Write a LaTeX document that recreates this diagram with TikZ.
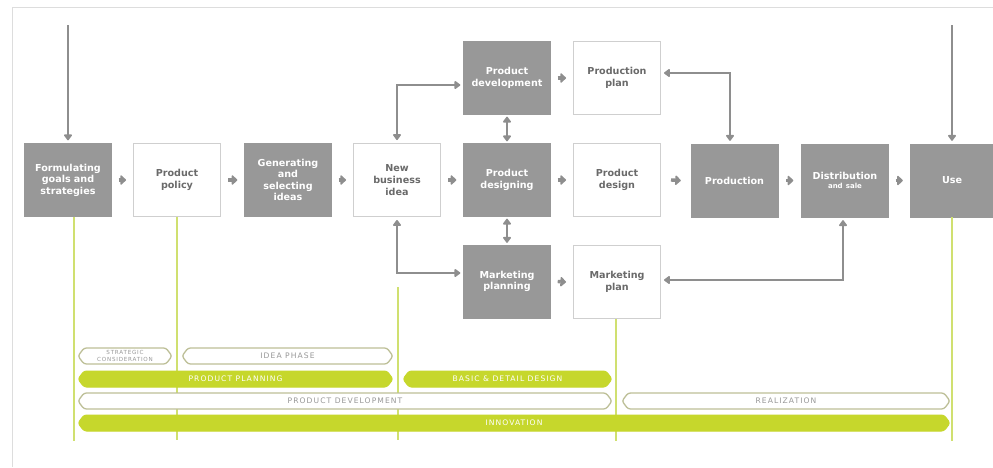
\documentclass[tikz,border=0pt]{standalone}
\usepackage{fontspec}
\setmainfont{DejaVu Sans}
\newfontfamily\barfont[LetterSpace=14]{DejaVu Sans}
\usetikzlibrary{arrows.meta}

\definecolor{boxgray}{HTML}{989898}
\definecolor{edgegray}{HTML}{CFCFCF}
\definecolor{linkgray}{HTML}{8E8E8E}
\definecolor{textgray}{HTML}{6A6A6A}
\definecolor{lime}{HTML}{C6D72C}
\definecolor{limeline}{HTML}{D0E070}
\definecolor{olive}{HTML}{BDBF97}
\definecolor{framegray}{HTML}{DDDDDD}

% phase bar with pointed ends: style, left x, right x, centre y, name, text
\newcommand\phasebar[6]{%
  \draw[#1] (#2,#4) -- (#2+6,#4-8) -- (#3-6,#4-8) -- (#3,#4)
     -- (#3-6,#4+8) -- (#2+6,#4+8) -- cycle;
  \node[#1 label] (#5) at ({(#2+#3)/2},#4) {#6};}

\begin{document}
\begin{tikzpicture}[x=1pt,y=-1pt,
  boxbase/.style={minimum width=87pt, minimum height=73pt, text width=84pt, align=center,
    font=\bfseries\fontsize{9.6}{11.6}\selectfont, inner sep=0pt},
  darkbox/.style={boxbase, fill=boxgray, draw=boxgray, text=white},
  lightbox/.style={boxbase, fill=white, draw=edgegray, line width=1pt, text=textgray},
  flow/.style={draw=linkgray, line width=3.4pt, -{Triangle[length=6pt,width=11pt,round]}},
  link/.style={draw=linkgray, line width=1.8pt, shorten <=3pt, shorten >=3pt},
  tipboth/.style={{Triangle[length=6.5pt,width=9pt,round]}-{Triangle[length=6.5pt,width=9pt,round]}},
  tipend/.style={-{Triangle[length=6.5pt,width=9pt,round]}},
  gline/.style={draw=limeline, line width=1.8pt},
  greenbar/.style={fill=lime, draw=lime, line width=1pt, rounded corners=2.5pt},
  greenbar label/.style={text=white, font=\barfont\fontsize{7.6}{7.6}\selectfont, inner sep=0pt, align=center},
  openbar/.style={fill=white, draw=olive, line width=1.3pt, rounded corners=2.5pt},
  openbar label/.style={text=boxgray, font=\barfont\fontsize{7.6}{7.6}\selectfont, inner sep=0pt, align=center},
]
\useasboundingbox (0,0) rectangle (993,467);
\fill[white] (0,0) rectangle (993,467);
\draw[framegray, line width=0.8pt] (993,7) -- (12,7) -- (12,467);

% main chain
\node[darkbox]  (f1) at (68,180)    {Formulating\\goals and\\strategies};
\node[lightbox] (f2) at (177,180)   {Product\\policy};
\node[darkbox]  (f3) at (288,180)   {Generating\\and\\selecting\\ideas};
\node[lightbox] (f4) at (397,180)   {New\\business\\idea};
\node[darkbox]  (f5) at (507,180)   {Product\\designing};
\node[lightbox] (f6) at (617,180)   {Product\\design};
\node[darkbox]  (f7) at (734.5,180.5) {Production};
\node[darkbox]  (f8) at (845,180.5) {Distribution\\[-2pt]{\fontsize{7}{8}\selectfont and sale}};
\node[darkbox, minimum width=82pt] (f9) at (952,180.5) {Use};

% upper and lower branches
\node[darkbox]  (pd)  at (507,78)    {Product\\development};
\node[lightbox] (pp)  at (617,78)    {Production\\plan};
\node[darkbox]  (mp)  at (507,281.5) {Marketing\\planning};
\node[lightbox] (mpl) at (617,282)   {Marketing\\plan};

% short step arrows
\foreach \a/\b in {f1/f2, f2/f3, f3/f4, f4/f5, f5/f6, f8/f9, pd/pp, mp/mpl}
  \draw[flow] ([xshift=7pt]\a.east) -- ([xshift=-7pt]\b.west);
\draw[flow] ([xshift=10pt]f6.east) -- ([xshift=-10pt]f7.west);
\draw[flow] ([xshift=8pt]f7.east) -- ([xshift=-8pt]f8.west);

% vertical exchanges around product designing
\draw[link, tipboth, shorten <=2pt, shorten >=2pt] (pd.south) -- (f5.north);
\draw[link, tipboth, shorten <=2pt, shorten >=2pt] (f5.south) -- (mp.north);

% feedback connectors
\draw[link, tipboth] (f4.north) |- ([yshift=-7pt]pd.west);
\draw[link, tipboth] (f4.south) |- ([yshift=8.5pt]mp.west);
\draw[link, tipboth] ([yshift=5pt]pp.east) -| ([xshift=-4.5pt]f7.north);
\draw[link, tipboth] ([yshift=2pt]mpl.east) -| ([xshift=-2pt]f8.south);

% inputs from above
\coordinate (in1) at (68,25);
\coordinate (in9) at (952,25);
\draw[link, tipend, shorten <=0pt] (in1) -- (f1.north);
\draw[link, tipend, shorten <=0pt] (in9) -- (f9.north);

% phase guide lines
\coordinate (g4) at (398,287);
\draw[gline] ([xshift=6pt]f1.south) -- ++(0,224);
\draw[gline] ([yshift=0.5pt]f2.south) -- ++(0,223);
\draw[gline] (g4) -- ++(0,153);
\draw[gline] ([xshift=-1pt]mpl.south) -- ++(0,122);
\draw[gline] (f9.south) -- ++(0,223.5);

% phase bars
\phasebar{openbar}{78}{172}{356}{b1}{{\fontsize{5.6}{6}\selectfont STRATEGIC}\\[-1pt]{\fontsize{5.6}{6}\selectfont CONSIDERATION}}
\phasebar{openbar}{182}{393}{356}{b2}{IDEA PHASE}
\phasebar{greenbar}{78}{393}{379}{b3}{PRODUCT PLANNING}
\phasebar{greenbar}{403}{612}{379}{b4}{BASIC \& DETAIL DESIGN}
\phasebar{openbar}{78}{612}{401}{b5}{PRODUCT DEVELOPMENT}
\phasebar{openbar}{622}{950}{401}{b6}{REALIZATION}
\phasebar{greenbar}{78}{950}{423}{b7}{INNOVATION}
\end{tikzpicture}
\end{document}
